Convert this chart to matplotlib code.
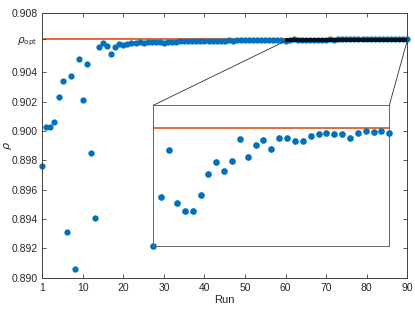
import numpy as np
import matplotlib
matplotlib.use('Agg')
import matplotlib.pyplot as plt
from matplotlib.patches import Rectangle, ConnectionPatch

plt.rcParams['font.family'] = ['Liberation Sans', 'DejaVu Sans']
plt.rcParams['font.size'] = 7.5

rho_opt = 0.90625

# rho per run (index 0 is labelled as run 1)
rho = [
    0.89760, 0.90023, 0.90028, 0.90060, 0.90228, 0.90341, 0.89308, 0.90373, 0.89056, 0.90487,
    0.90209, 0.90455, 0.89850, 0.89408, 0.90568, 0.90596, 0.90577, 0.90523, 0.90573, 0.90591,
    0.90586, 0.90590, 0.90596, 0.90598, 0.90603, 0.90600, 0.90604, 0.90602, 0.90606, 0.90605,
    0.90599, 0.90606, 0.90608, 0.90607, 0.90610, 0.90609, 0.90611, 0.90610, 0.90612, 0.90611,
    0.90613, 0.90612, 0.90614, 0.90613, 0.90615, 0.90614, 0.90616, 0.90615, 0.90617, 0.90616,
    0.90618, 0.90617, 0.90619, 0.90618, 0.90619, 0.90620, 0.90619, 0.90620, 0.90618, 0.90620,
    0.906124, 0.906176, 0.906226, 0.906170, 0.906161, 0.906161, 0.906178, 0.906201, 0.906213, 0.906204,
    0.906214, 0.906238, 0.906219, 0.906232, 0.906237, 0.906227, 0.906239, 0.906239, 0.906236, 0.906236,
    0.906241, 0.906243, 0.906244, 0.906243, 0.906243, 0.906239, 0.906244, 0.906247, 0.906246, 0.906247,
    0.906244,
]
runs = np.arange(len(rho))
rho = np.array(rho)

xticks = [0, 10, 20, 30, 40, 50, 60, 70, 80, 90]
xticklabels = ['1', '10', '20', '30', '40', '50', '60', '70', '80', '90']
yticks = [0.890, 0.892, 0.894, 0.896, 0.898, 0.900, 0.902, 0.904, rho_opt, 0.908]
yticklabels = ['0.890', '0.892', '0.894', '0.896', '0.898', '0.900', '0.902', '0.904',
               r'$\rho_{\rm opt}$', '0.908']

zoom_x = (60, 90)
zoom_y = (0.906124, 0.906274)

blue = '#0072BD'
orange = '#D95319'
edge = '#404040'

fig = plt.figure(figsize=(4.15, 3.12), dpi=100)
ax = fig.add_axes([0.102, 0.110, 0.879, 0.847])

ax.axhline(rho_opt, color=orange, lw=1.2, zorder=1)
ax.plot(runs, rho, 'o', color=blue, ms=4.5, mec='none', zorder=2, clip_on=False)

ax.set_xlim(0, 90)
ax.set_ylim(0.890, 0.908)
ax.set_xticks(xticks)
ax.set_xticklabels(xticklabels)
ax.set_yticks(yticks)
ax.set_yticklabels(yticklabels)
ax.tick_params(direction='in', top=True, right=True, length=3, width=0.6,
               color=edge, labelcolor='#262626', labelsize=7.5)
for s in ax.spines.values():
    s.set_color(edge)
    s.set_linewidth(0.7)
ax.set_xlabel('Run', fontsize=8, color='#262626', labelpad=2)
ax.set_ylabel(r'$\rho$', fontsize=8, color='#262626')
ax.yaxis.set_label_coords(-0.078, 0.5)

# zoom box on main axes
ax.add_patch(Rectangle((zoom_x[0], zoom_y[0]), zoom_x[1] - zoom_x[0], zoom_y[1] - zoom_y[0],
                       fill=False, ec='black', lw=1.2, zorder=3))

# inset
axi = fig.add_axes([0.3694, 0.2125, 0.5687, 0.45])
axi.axhline(rho_opt, color=orange, lw=1.2, zorder=1)
sel = (runs >= zoom_x[0]) & (runs <= zoom_x[1])
axi.plot(runs[sel], rho[sel], 'o', color=blue, ms=4.8, mec='none', zorder=2, clip_on=False)
axi.set_xlim(*zoom_x)
axi.set_ylim(*zoom_y)
axi.set_xticks([])
axi.set_yticks([])
for s in axi.spines.values():
    s.set_color('#666666')
    s.set_linewidth(0.7)

for xa in zoom_x:
    con = ConnectionPatch(xyA=(xa, zoom_y[0]), coordsA=ax.transData,
                          xyB=(xa, zoom_y[1]), coordsB=axi.transData,
                          color='#303030', lw=0.6)
    fig.add_artist(con)

fig.savefig('out.png', dpi=100)
